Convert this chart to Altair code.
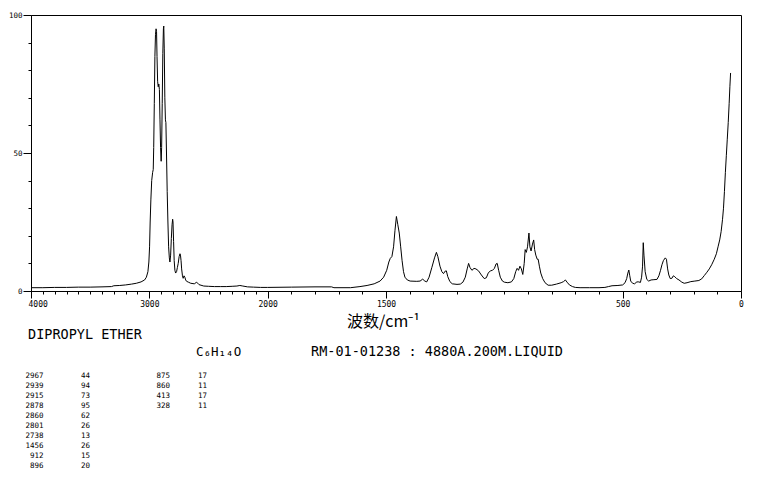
import altair as alt
import pandas as pd

# ---- spectrum ----
wavenumber = [
    4000, 3900, 3800, 3700, 3600, 3500, 3400, 3320, 3300, 3250, 3200, 3150, 3110, 3070, 3040,
    3025, 3012, 3004, 2998, 2993, 2987, 2980, 2972, 2967, 2963, 2958, 2953, 2948, 2943, 2939,
    2935, 2930, 2925, 2920, 2915, 2910, 2905, 2900, 2896, 2891, 2886, 2881, 2878, 2874, 2869,
    2864, 2860, 2855, 2849, 2843, 2837, 2831, 2826, 2820, 2814, 2808, 2803, 2800, 2795, 2790,
    2784, 2778, 2770, 2763, 2756, 2748, 2741, 2737, 2732, 2727, 2720, 2714, 2707, 2700, 2693,
    2685, 2670, 2650, 2620, 2600, 2580, 2540, 2500, 2450, 2400, 2350, 2300, 2260, 2235, 2210,
    2170, 2120, 2060, 2000,
    1900, 1800, 1730, 1720, 1650, 1610, 1580, 1550, 1525, 1510, 1497, 1488, 1482, 1475, 1468,
    1462, 1456, 1450, 1444, 1438, 1432, 1426, 1420, 1410, 1398, 1370, 1356, 1345, 1336, 1328,
    1318, 1306, 1295, 1287, 1281, 1272, 1264, 1257, 1250, 1245, 1239, 1230, 1220, 1200, 1186,
    1175, 1165, 1157, 1151, 1145, 1137, 1128, 1120, 1109, 1097, 1085, 1076, 1068, 1059, 1050,
    1042, 1035, 1030, 1024, 1017, 1008, 1000, 985, 970, 960, 952, 946, 940, 934, 928,
    922, 916, 912, 907, 902, 896, 892, 887, 881, 876, 872, 867, 861, 857, 852,
    846, 838, 828, 815, 800, 780, 760, 750, 742, 735, 725, 712, 700, 680, 640,
    600, 575, 560, 545, 520, 500, 490, 483, 478, 474, 470, 466, 458, 450, 440,
    432, 425, 420, 416, 413, 410, 405, 398, 390, 380, 368, 355, 347, 340, 334,
    328, 320, 315, 310, 305, 299, 292, 286, 280, 272, 262, 250, 240, 228, 212,
    195, 178, 166, 155, 144, 134, 124, 113, 104, 97, 90, 84, 78, 74, 70,
    66, 62, 58, 54, 50, 47, 44,
]
intensity = [
    1.2, 1.2, 1.3, 1.3, 1.4, 1.4, 1.5, 1.6, 1.9, 2.0, 2.2, 2.5, 2.8, 3.3, 4.0,
    5.0, 7.0, 10.5, 16, 25, 33, 40, 43, 44, 52, 68, 85, 93, 95, 94,
    85, 76, 74, 75, 73, 62, 52, 47, 52, 68, 86, 95, 96, 88, 70,
    62, 61, 50, 36, 25, 16, 12, 10.5, 13, 19, 24, 26, 25, 18, 11,
    7.5, 6.5, 7, 8.5, 10, 12.5, 13.5, 13, 11, 8, 5.5, 4.6, 5.5, 5.0, 4.0,
    3.5, 3.2, 2.8, 2.6, 3.2, 2.3, 1.8, 1.7, 1.6, 1.6, 1.6, 1.7, 1.8, 2.0, 1.8,
    1.5, 1.4, 1.3, 1.3,
    1.4, 1.5, 1.5, 1.2, 1.2, 1.6, 2.0, 2.6, 3.6, 5, 7.5, 10.5, 11.8, 12.5, 16,
    22, 27, 24, 21, 16, 11, 7, 5, 4, 3.6, 3.5, 3.6, 4.3, 3.6, 3.3,
    5, 8.6, 12, 14, 12.5, 9, 7, 6.3, 7.2, 7.3, 5.2, 3.4, 2.6, 2.4, 2.5,
    3.2, 5, 8, 10, 8.5, 7.5, 8.2, 8.0, 7.3, 5.8, 4.5, 4.8, 6.5, 7.3, 7.5,
    8.2, 9.8, 10, 7.5, 5.0, 3.6, 3.2, 3.0, 3.3, 4.5, 7, 8.2, 7.5, 9, 8,
    6, 10, 15, 14, 16, 21, 16, 14.5, 17, 18.5, 15, 13, 11.5, 11.5, 9,
    6.5, 4.5, 3, 2.1, 2.1, 2.5, 3, 3.4, 4, 3.2, 2.2, 1.6, 1.3, 1.2, 1.2,
    1.2, 1.3, 1.6, 1.9, 2.0, 2.2, 3.0, 4.5, 6.5, 7.6, 5.5, 3.6, 2.8, 2.6, 3.3,
    3.3, 3.1, 5, 9, 17.5, 13, 7, 4.2, 3.6, 4, 4.1, 4.2, 5.5, 7.5, 9.5,
    11, 12, 11.5, 8, 5.8, 4.5, 4.6, 5.5, 5.2, 4.5, 4, 3.2, 2.8, 3, 3.4,
    3.6, 3.8, 4.4, 5.6, 6.8, 8, 9.5, 11.5, 13.5, 16, 18.5, 21.5, 26, 30, 36,
    43, 49, 55, 61, 68, 74, 79,
]

# ---- peak table ----
peak_wn = [2967, 2939, 2915, 2878, 2860, 2801, 2738, 1456, 912, 896, 875, 860, 413, 328]
peak_int = [44, 94, 73, 95, 62, 26, 13, 26, 15, 20, 17, 11, 17, 11]

# ---- axes ----
x_labeled = [4000, 3000, 2000, 1500, 500, 0]
x_ticks = list(range(4000, -1, -100))
y_labeled = [0, 50, 100]
y_ticks = list(range(0, 101, 10))

compound = "DIPROPYL ETHER"
formula = "C₆H₁₄O"
sample_info = "RM-01-01238 : 4880A.200M.LIQUID"
x_title = "波数/cm⁻¹"

W, H = 710, 276
MONO = "DejaVu Sans Mono"

spec = pd.DataFrame({"wn": wavenumber, "I": intensity})
one = pd.DataFrame({"k": [0]})

x_test = f"indexof({x_labeled}, datum.value) >= 0"
y_test = f"indexof({y_labeled}, datum.value) >= 0"
first_test = f"datum.value == {x_labeled[0]}"

x_axis = alt.Axis(
    values=x_ticks,
    labelExpr=f"{x_test} ? format(datum.value, 'd') : ''",
    tickSize={"condition": {"test": x_test, "value": 7}, "value": 3},
    labelAlign={"condition": {"test": first_test, "value": "left"}, "value": "center"},
    labelOffset={"condition": {"test": first_test, "value": -3}, "value": 0},
    labelFont=MONO, labelFontSize=8, labelColor="black", labelPadding=2,
    labelOverlap=False, labelFlush=False, grid=False,
    title=x_title, titleFont="Noto Sans CJK SC", titleFontSize=16,
    titleFontWeight="normal", titleColor="black",
    titleX=W / 2 - 3, titleY=35, titleAlign="center", titleBaseline="alphabetic",
)
y_axis = alt.Axis(
    values=y_ticks,
    labelExpr=f"{y_test} ? format(datum.value, 'd') : ''",
    tickSize={"condition": {"test": y_test, "value": 8}, "value": 3},
    labelFont=MONO, labelFontSize=7.5, labelColor="black", labelPadding=1,
    labelOverlap=False, labelFlush=False, grid=False, title=None,
)

line = alt.Chart(spec).mark_line(color="black", strokeWidth=1).encode(
    x=alt.X("wn:Q", scale=alt.Scale(domain=[4000, 2000, 0], range=[0, W / 3, W], nice=False, zero=False), axis=x_axis),
    y=alt.Y("I:Q", scale=alt.Scale(domain=[0, 100], nice=False), axis=y_axis),
)


def label(text, x, y, size, align="left", font=MONO, line_height=None):
    kw = dict(align=align, baseline="alphabetic", font=font, fontSize=size, color="black")
    if line_height is not None:
        kw["lineHeight"] = line_height
    return alt.Chart(one).mark_text(**kw).encode(
        x=alt.value(x), y=alt.value(y), text=alt.value(text)
    )


col1_wn = [str(v) for v in peak_wn[:10]]
col1_int = [str(v) for v in peak_int[:10]]
col2_wn = [str(v) for v in peak_wn[10:]]
col2_int = [str(v) for v in peak_int[10:]]

layers = [
    line,
    label(compound, -3, 324, 13.5),
    label(formula, 165, 341, 12.5),
    label(sample_info, 280, 341, 13.5),
    label(col1_wn, 12.5, 363.3, 7.5, align="right", line_height=10),
    label(col1_int, 59, 363.3, 7.5, align="right", line_height=10),
    label(col2_wn, 139, 363.3, 7.5, align="right", line_height=10),
    label(col2_int, 176, 363.3, 7.5, align="right", line_height=10),
]

chart = alt.layer(*layers).properties(
    width=W, height=H,
    padding={"left": 23, "top": 7, "right": 10, "bottom": 178},
    autosize=alt.AutoSizeParams(type="none"),
    background="white",
).configure_view(stroke="black", strokeWidth=1).configure_axis(
    domainColor="black", domainWidth=1, tickColor="black", tickWidth=1,
)

chart.save("out.html", embed_options={"renderer": "svg", "actions": False})
